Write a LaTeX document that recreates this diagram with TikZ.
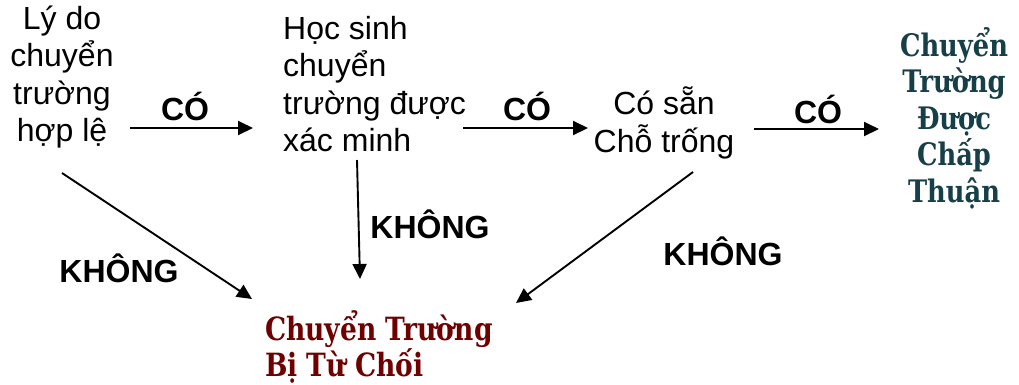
\documentclass[tikz,border=0pt]{standalone}
\usepackage{fontspec}
\setmainfont{Liberation Sans}
\newfontfamily\dvserif{DejaVu Serif}[FakeStretch=0.83, BoldFont={DejaVu Serif Bold}, BoldFeatures={FakeStretch=0.83}]
\usetikzlibrary{arrows.meta}
\definecolor{okteal}{HTML}{173F47}
\definecolor{nored}{HTML}{6E0000}
\tikzset{
  txt/.style={inner sep=0pt, font=\fontsize{32}{37.5}\selectfont},
  lbl/.style={inner sep=0pt, font=\fontsize{32}{36}\selectfont\bfseries},
  okbox/.style={inner sep=0pt, align=center, text=okteal, font=\dvserif\bfseries\fontsize{31}{36.5}\selectfont},
  nobox/.style={inner sep=0pt, align=left, text=nored, font=\dvserif\bfseries\fontsize{32}{33}\selectfont},
  arr/.style={line width=1.9pt, -{Triangle[length=15pt,width=14pt]}},
}
\begin{document}
\begin{tikzpicture}[x=1pt,y=-1pt]
\useasboundingbox (0,0) rectangle (1019,384);
% nodes
\node[txt, align=center] (reason) at (62,77) {Lý do\\chuyển\\trường\\hợp lệ};
\node[txt, align=left, anchor=west] (verified) at (283,84) {Học sinh\\chuyển\\trường được\\xác minh};
\node[txt, align=center] (space) at (664,123) {Có sẵn\\Chỗ trống};
\node[okbox] (approved) at (954,118) {Chuyển\\Trường\\Được\\Chấp\\Thuận};
\node[nobox, anchor=west] (denied) at (265,347) {Chuyển Trường\\Bị Từ Chối};
% connector end points
\coordinate (a1s) at (130,128); \coordinate (a1e) at (253,128);
\coordinate (a2s) at (463,128); \coordinate (a2e) at (588,128);
\coordinate (a3s) at (754,129); \coordinate (a3e) at (879,129);
\coordinate (b1s) at (62,173);  \coordinate (b1e) at (252,299);
\coordinate (b2s) at (357,160); \coordinate (b2e) at (360,279);
\coordinate (b3s) at (693,172); \coordinate (b3e) at (516,303);
% connectors
\draw[arr] (a1s) -- (a1e);
\draw[arr] (a2s) -- (a2e);
\draw[arr] (a3s) -- (a3e);
\draw[arr] (b1s) -- (b1e);
\draw[arr] (b2s) -- (b2e);
\draw[arr] (b3s) -- (b3e);
% labels
\node[lbl] (yes1) at (185,106) {CÓ};
\node[lbl] (yes2) at (527,106) {CÓ};
\node[lbl] (yes3) at (818,109) {CÓ};
\node[lbl] (no1) at (119,268) {KHÔNG};
\node[lbl] (no2) at (430,224) {KHÔNG};
\node[lbl] (no3) at (723,251) {KHÔNG};
\end{tikzpicture}
\end{document}
